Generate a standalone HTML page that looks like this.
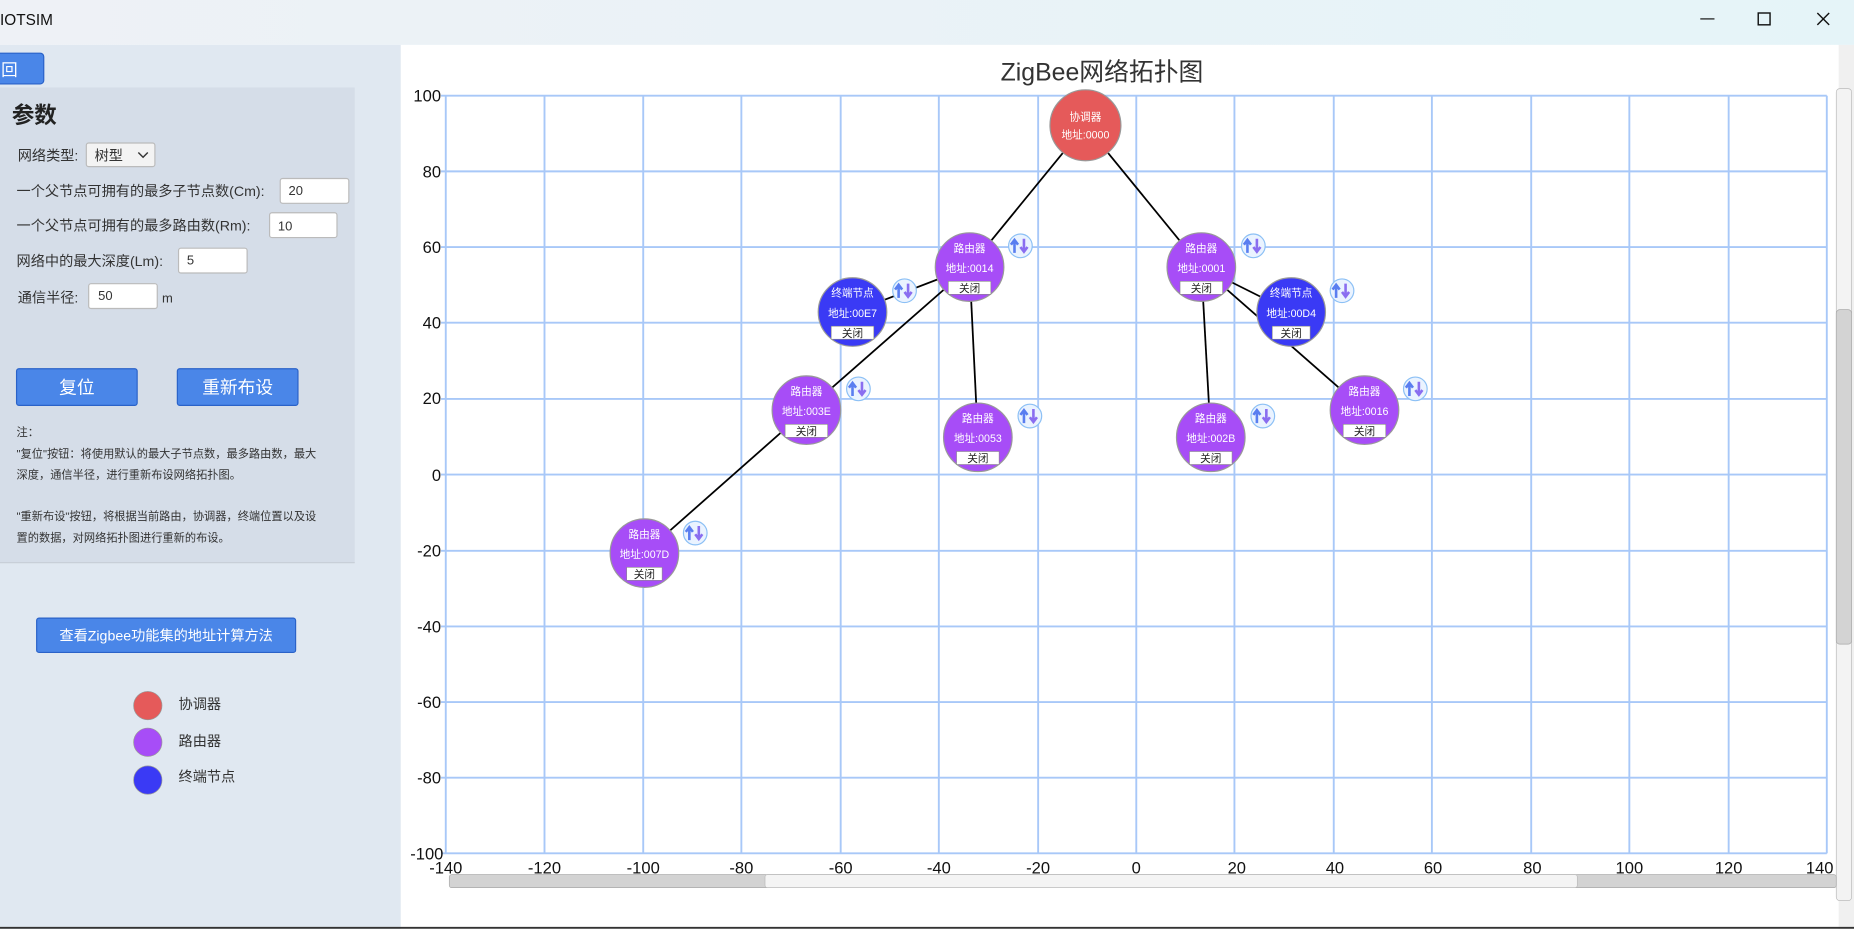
<!DOCTYPE html>
<html><head><meta charset="utf-8"><style>
html,body{margin:0;padding:0;width:1854px;height:929px;overflow:hidden;background:#fff}
svg{display:block}
text{font-family:"Liberation Sans","Noto Sans CJK SC",sans-serif}
</style></head><body>
<svg width="1854" height="929" viewBox="0 0 1568 786" preserveAspectRatio="none" xmlns="http://www.w3.org/2000/svg">
<defs>
<linearGradient id="tb" x1="0" x2="1"><stop offset="0" stop-color="#eef1f6"/><stop offset="1" stop-color="#e5f4f8"/></linearGradient>
<g id="ic"><circle r="10" fill="#eaf3ff" stroke="#8cc0f5" stroke-width="1"/><path d="M-5 6V-4M-8-1L-5-5L-2-1" stroke="#5a7ef0" stroke-width="2.2" fill="none"/><path d="M3-6V4M0 1L3 5L6 1" stroke="#8a6ef0" stroke-width="2.2" fill="none"/></g>
</defs>
<!-- title bar -->
<rect x="0" y="0" width="1568" height="38" fill="url(#tb)"/>
<text x="0" y="21" font-size="13" fill="#111">IOTSIM</text>
<line x1="1438" y1="16" x2="1450" y2="16" stroke="#111" stroke-width="1"/>
<rect x="1487" y="11" width="10" height="10" fill="none" stroke="#111" stroke-width="1.2"/>
<path d="M1537 11L1547 21M1547 11L1537 21" stroke="#111" stroke-width="1.2"/>
<!-- left panel -->
<rect x="0" y="38" width="339" height="748" fill="#e0e8f1"/>
<rect x="0" y="74" width="300" height="402" fill="#d5dde8"/>
<line x1="0" y1="476" x2="300" y2="476" stroke="#c8cfd8"/>
<rect x="-4" y="45" width="41" height="26" rx="3" fill="#4a86e8" stroke="#2a62c8"/>
<text x="1" y="64" font-size="14" fill="#fff">回</text>
<text x="10" y="104" font-size="19" font-weight="bold" fill="#222">参数</text>
<g font-size="12" fill="#333">
<text x="15" y="136">网络类型:</text>
<rect x="73" y="121" width="58" height="20" rx="2" fill="#f3f3f3" stroke="#bbb"/>
<text x="80" y="136">树型</text><path d="M117 129l4 4l4-4" stroke="#333" fill="none" stroke-width="1.2"/>
<text x="14" y="166">一个父节点可拥有的最多子节点数(Cm):</text>
<rect x="237" y="151" width="58" height="21" rx="2" fill="#fff" stroke="#bbb"/><text x="244" y="165" font-size="11">20</text>
<text x="14" y="195">一个父节点可拥有的最多路由数(Rm):</text>
<rect x="228" y="180" width="57" height="21" rx="2" fill="#fff" stroke="#bbb"/><text x="235" y="195" font-size="11">10</text>
<text x="14" y="225">网络中的最大深度(Lm):</text>
<rect x="151" y="210" width="58" height="21" rx="2" fill="#fff" stroke="#bbb"/><text x="158" y="224" font-size="11">5</text>
<text x="15" y="256">通信半径:</text>
<rect x="75" y="240" width="58" height="21" rx="2" fill="#fff" stroke="#bbb"/><text x="83" y="254" font-size="11">50</text>
<text x="137" y="256" font-size="11">m</text>
</g>
<rect x="14" y="312" width="102" height="31" rx="2" fill="#4a86e8" stroke="#2a62c8"/>
<text x="65" y="333" font-size="15" fill="#fff" text-anchor="middle">复位</text>
<rect x="150" y="312" width="102" height="31" rx="2" fill="#4a86e8" stroke="#2a62c8"/>
<text x="201" y="333" font-size="15" fill="#fff" text-anchor="middle">重新布设</text>
<g font-size="9.5" fill="#333">
<text x="14" y="369">注：</text>
<text x="14" y="387">"复位"按钮：将使用默认的最大子节点数，最多路由数，最大</text>
<text x="14" y="405">深度，通信半径，进行重新布设网络拓扑图。</text>
<text x="14" y="440">"重新布设"按钮，将根据当前路由，协调器，终端位置以及设</text>
<text x="14" y="458">置的数据，对网络拓扑图进行重新的布设。</text>
</g>
<rect x="31" y="523" width="219" height="29" rx="2" fill="#4a86e8" stroke="#2a62c8"/>
<text x="140.5" y="542" font-size="12" fill="#fff" text-anchor="middle">查看Zigbee功能集的地址计算方法</text>
<circle cx="125" cy="597" r="12" fill="#e55a5a" stroke="#999" stroke-width=".6"/>
<circle cx="125" cy="628" r="12" fill="#a74df7" stroke="#999" stroke-width=".6"/>
<circle cx="125" cy="660" r="12" fill="#3a3af5" stroke="#999" stroke-width=".6"/>
<g font-size="12" fill="#333"><text x="151" y="600">协调器</text><text x="151" y="631">路由器</text><text x="151" y="661">终端节点</text></g>
<!-- chart -->
<rect x="339" y="38" width="1216" height="748" fill="#fff"/>
<rect x="1555" y="38" width="13" height="748" fill="#f0f0f0"/>
<rect x="1553" y="75" width="13" height="687" rx="3" fill="#f3f3f3" stroke="#bbb" stroke-width=".6"/>
<rect x="1553" y="262" width="13" height="283" rx="3" fill="#d3d3d3" stroke="#aaa" stroke-width=".6"/>
<text x="932" y="68" font-size="21" fill="#333" text-anchor="middle">ZigBee网络拓扑图</text>
<g stroke="#a8c8f8" stroke-width="1.6">
<line x1="377" y1="81" x2="377" y2="722"/><line x1="460.5" y1="81" x2="460.5" y2="722"/><line x1="544" y1="81" x2="544" y2="722"/><line x1="627" y1="81" x2="627" y2="722"/><line x1="711" y1="81" x2="711" y2="722"/><line x1="794" y1="81" x2="794" y2="722"/><line x1="878" y1="81" x2="878" y2="722"/><line x1="961" y1="81" x2="961" y2="722"/><line x1="1044" y1="81" x2="1044" y2="722"/><line x1="1128" y1="81" x2="1128" y2="722"/><line x1="1211" y1="81" x2="1211" y2="722"/><line x1="1295" y1="81" x2="1295" y2="722"/><line x1="1378" y1="81" x2="1378" y2="722"/><line x1="1462" y1="81" x2="1462" y2="722"/><line x1="1545" y1="81" x2="1545" y2="722"/>
<line x1="373" y1="81" x2="1545" y2="81"/><line x1="373" y1="145" x2="1545" y2="145"/><line x1="373" y1="209" x2="1545" y2="209"/><line x1="373" y1="273" x2="1545" y2="273"/><line x1="373" y1="337.5" x2="1545" y2="337.5"/><line x1="373" y1="401.5" x2="1545" y2="401.5"/><line x1="373" y1="466" x2="1545" y2="466"/><line x1="373" y1="530" x2="1545" y2="530"/><line x1="373" y1="594" x2="1545" y2="594"/><line x1="373" y1="658" x2="1545" y2="658"/><line x1="373" y1="722" x2="1545" y2="722"/>
</g>
<g font-size="14" fill="#111" text-anchor="end">
<text x="373" y="86">100</text><text x="373" y="150">80</text><text x="373" y="214">60</text><text x="373" y="278">40</text><text x="373" y="342">20</text><text x="373" y="407">0</text><text x="373" y="471">-20</text><text x="373" y="535">-40</text><text x="373" y="599">-60</text><text x="373" y="663">-80</text><text x="375" y="727">-100</text>
</g>
<g font-size="14" fill="#111" text-anchor="middle">
<text x="377" y="739">-140</text><text x="460.5" y="739">-120</text><text x="544" y="739">-100</text><text x="627" y="739">-80</text><text x="711" y="739">-60</text><text x="794" y="739">-40</text><text x="878" y="739">-20</text><text x="961" y="739">0</text><text x="1046" y="739">20</text><text x="1129" y="739">40</text><text x="1212" y="739">60</text><text x="1296" y="739">80</text><text x="1378" y="739">100</text><text x="1462" y="739">120</text><text x="1539" y="739">140</text>
</g>
<rect x="380" y="740" width="1173" height="11" rx="2" fill="#d3d3d3" stroke="#aaa" stroke-width=".6"/>
<rect x="647" y="740" width="687" height="11" rx="2" fill="#f4f4f4" stroke="#bbb" stroke-width=".6"/>
<line x1="0" y1="785" x2="1568" y2="785" stroke="#333" stroke-width="1.5"/>
<!-- edges -->
<g stroke="#000" stroke-width="1.5">
<line x1="918" y1="106" x2="820" y2="226"/><line x1="918" y1="106" x2="1016" y2="226"/>
<line x1="820" y1="226" x2="721" y2="264"/><line x1="820" y1="226" x2="682" y2="347"/><line x1="820" y1="226" x2="827" y2="370"/>
<line x1="1016" y1="226" x2="1024" y2="370"/><line x1="1016" y1="226" x2="1092" y2="264"/><line x1="1016" y1="226" x2="1154" y2="347"/>
<line x1="682" y1="347" x2="545" y2="468"/>
</g>
<!-- nodes -->
<g font-size="9" fill="#fff" text-anchor="middle">
<g transform="translate(918,106)"><circle r="30" fill="#e55a5a" stroke="#999"/><text y="-4">协调器</text><text y="11">地址:0000</text></g>
<g transform="translate(1092,264)"><circle r="29" fill="#3a3af5" stroke="#999"/><text y="-13">终端节点</text><text y="4">地址:00D4</text><rect x="-16" y="12" width="32" height="11" fill="#fff" stroke="#888" stroke-width=".5"/><text y="21" fill="#222">关闭</text></g>
<g transform="translate(820,226)"><circle r="29" fill="#a74df7" stroke="#999"/><text y="-13">路由器</text><text y="4">地址:0014</text><rect x="-18" y="12" width="36" height="11" fill="#fff" stroke="#888" stroke-width=".5"/><text y="21" fill="#222">关闭</text></g>
<g transform="translate(1016,226)"><circle r="29" fill="#a74df7" stroke="#999"/><text y="-13">路由器</text><text y="4">地址:0001</text><rect x="-18" y="12" width="36" height="11" fill="#fff" stroke="#888" stroke-width=".5"/><text y="21" fill="#222">关闭</text></g>
<g transform="translate(721,264)"><circle r="29" fill="#3a3af5" stroke="#999"/><text y="-13">终端节点</text><text y="4">地址:00E7</text><rect x="-18" y="12" width="36" height="11" fill="#fff" stroke="#888" stroke-width=".5"/><text y="21" fill="#222">关闭</text></g>
<g transform="translate(682,347)"><circle r="29" fill="#a74df7" stroke="#999"/><text y="-13">路由器</text><text y="4">地址:003E</text><rect x="-18" y="12" width="36" height="11" fill="#fff" stroke="#888" stroke-width=".5"/><text y="21" fill="#222">关闭</text></g>
<g transform="translate(827,370)"><circle r="29" fill="#a74df7" stroke="#999"/><text y="-13">路由器</text><text y="4">地址:0053</text><rect x="-18" y="12" width="36" height="11" fill="#fff" stroke="#888" stroke-width=".5"/><text y="21" fill="#222">关闭</text></g>
<g transform="translate(1024,370)"><circle r="29" fill="#a74df7" stroke="#999"/><text y="-13">路由器</text><text y="4">地址:002B</text><rect x="-18" y="12" width="36" height="11" fill="#fff" stroke="#888" stroke-width=".5"/><text y="21" fill="#222">关闭</text></g>
<g transform="translate(1154,347)"><circle r="29" fill="#a74df7" stroke="#999"/><text y="-13">路由器</text><text y="4">地址:0016</text><rect x="-18" y="12" width="36" height="11" fill="#fff" stroke="#888" stroke-width=".5"/><text y="21" fill="#222">关闭</text></g>
<g transform="translate(545,468)"><circle r="29" fill="#a74df7" stroke="#999"/><text y="-13">路由器</text><text y="4">地址:007D</text><rect x="-15" y="12" width="30" height="11" fill="#fff" stroke="#888" stroke-width=".5"/><text y="21" fill="#222">关闭</text></g>
</g>
<use href="#ic" x="863" y="208"/><use href="#ic" x="765" y="246"/><use href="#ic" x="726" y="329"/><use href="#ic" x="871" y="352"/>
<use href="#ic" x="1060" y="208"/><use href="#ic" x="1135" y="246"/><use href="#ic" x="1068" y="352"/><use href="#ic" x="1197" y="329"/><use href="#ic" x="588" y="451"/>
</svg>
</body></html>
